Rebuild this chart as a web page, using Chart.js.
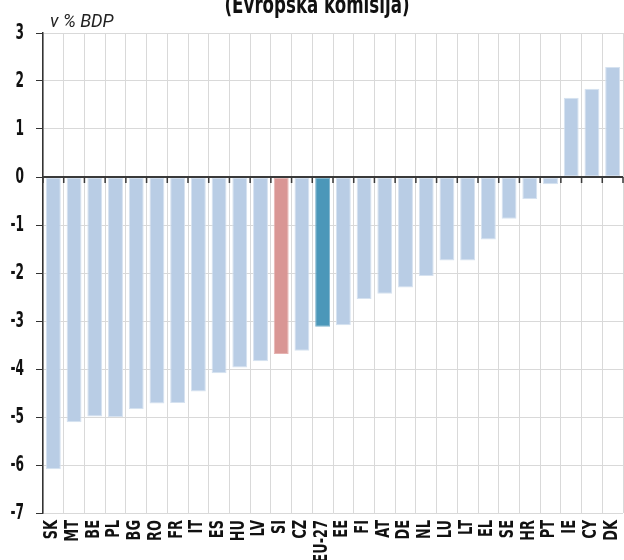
<!DOCTYPE html>
<html>
<head>
<meta charset="utf-8">
<script src="https://cdn.jsdelivr.net/npm/chart.js@4"></script>
<style>
  html, body { margin: 0; padding: 0; background: #ffffff; }
  #wrap { width: 624px; height: 560px; }
</style>
</head>
<body>
<div id="wrap"><canvas id="c" width="624" height="560"></canvas></div>
<script>
// Country codes, left to right
const countries = ['SK','MT','BE','PL','BG','RO','FR','IT','ES','HU','LV','SI','CZ','EU-27','EE','FI','AT','DE','NL','LU','LT','EL','SE','HR','PT','IE','CY','DK'];
// Budget balance, % of GDP
const balance = [-6.09,-5.11,-4.99,-5.0,-4.84,-4.72,-4.71,-4.47,-4.09,-3.97,-3.84,-3.69,-3.62,-3.12,-3.09,-2.54,-2.43,-2.30,-2.06,-1.74,-1.74,-1.30,-0.87,-0.46,-0.15,1.65,1.84,2.29];
// Y axis tick values
const yTicks = [3,2,1,0,-1,-2,-3,-4,-5,-6,-7];
const titleText = '(Evropska komisija)';
const unitText = 'v % BDP';

const highlightSI = 'SI';
const highlightEU = 'EU-27';

const colBase = '#b9cde5', colSI = '#d99694', colEU = '#4b97b9';
const barColors = countries.map(c => c === highlightSI ? colSI : (c === highlightEU ? colEU : colBase));
const edgeColors = countries.map(c => c === highlightSI ? '#e6b3b1' : (c === highlightEU ? '#7fb3cc' : '#d6e2f0'));

const HEAVY = '"DejaVu Sans", sans-serif';
const LIGHT = 'Roboto, "DejaVu Sans", sans-serif';

// Text squeezed along its own direction (narrow typeface look)
function narrowText(ctx, text, x, y, angle, squeeze) {
  ctx.save();
  ctx.translate(x, y);
  ctx.rotate(angle);
  ctx.scale(squeeze, 1);
  ctx.fillText(text, 0, 0);
  ctx.restore();
}

// Zero line with tick marks, narrow axis labels and heading texts
const decorations = {
  id: 'decorations',
  afterDatasetsDraw(chart) {
    const { ctx, chartArea, scales } = chart;
    const x = scales.x, y = scales.y;
    const y0 = y.getPixelForValue(0);
    const step = x.getPixelForValue(1) - x.getPixelForValue(0);
    ctx.save();
    ctx.strokeStyle = '#3a3a3a';
    ctx.lineWidth = 2;
    ctx.beginPath();
    ctx.moveTo(chartArea.left, y0);
    ctx.lineTo(chartArea.right, y0);
    ctx.stroke();
    ctx.lineWidth = 1.5;
    ctx.beginPath();
    for (let i = 0; i <= countries.length; i++) {
      const px = x.getPixelForValue(0) - step / 2 + i * step;
      ctx.moveTo(px, y0);
      ctx.lineTo(px, y0 + 6);
    }
    ctx.stroke();
    ctx.restore();
  },
  afterDraw(chart) {
    const { ctx, chartArea, scales } = chart;
    const x = scales.x, y = scales.y;
    ctx.save();
    ctx.fillStyle = '#111111';

    // y axis labels
    ctx.font = 'bold 21px ' + HEAVY;
    ctx.textAlign = 'right';
    ctx.textBaseline = 'middle';
    y.ticks.forEach((t, i) => {
      narrowText(ctx, String(t.value), chartArea.left - 19, y.getPixelForTick(i) + 1, 0, 0.58);
    });

    // x axis labels, rotated to read upward
    ctx.font = 'bold 19px ' + HEAVY;
    ctx.textAlign = 'right';
    ctx.textBaseline = 'middle';
    countries.forEach((c, i) => {
      narrowText(ctx, c, x.getPixelForValue(i) - 1, chartArea.bottom + 7, -Math.PI / 2, 0.68);
    });

    // heading, fitted to its printed width
    ctx.textAlign = 'center';
    ctx.textBaseline = 'alphabetic';
    ctx.font = 'bold 24px ' + HEAVY;
    const squeezeTitle = 185 / ctx.measureText(titleText).width;
    narrowText(ctx, titleText, 317, 13, 0, squeezeTitle);

    ctx.textAlign = 'left';
    ctx.font = 'italic 19px ' + LIGHT;
    ctx.fillStyle = '#222222';
    narrowText(ctx, unitText, 50, 27, 0, 0.95);
    ctx.restore();
  }
};

new Chart(document.getElementById('c'), {
  type: 'bar',
  data: {
    labels: countries,
    datasets: [{
      data: balance,
      backgroundColor: barColors,
      borderColor: edgeColors,
      borderWidth: 1,
      borderSkipped: false,
      barPercentage: 0.72,
      categoryPercentage: 1.0
    }]
  },
  options: {
    responsive: false,
    animation: false,
    devicePixelRatio: 1,
    layout: { padding: { top: 33, right: 1, left: 0, bottom: 0 } },
    plugins: { legend: { display: false }, tooltip: { enabled: false }, title: { display: false } },
    scales: {
      x: {
        offset: true,
        grid: { offset: true, color: '#d9d9d9', lineWidth: 1, drawTicks: false },
        border: { display: false },
        ticks: { display: false, autoSkip: false },
        afterFit(scale) {
          scale.height = 47;
          scale.paddingLeft = 0;
          scale.paddingRight = 0;
        }
      },
      y: {
        min: -7, max: 3,
        afterBuildTicks(scale) { scale.ticks = yTicks.map(v => ({ value: v })); },
        grid: { color: '#d9d9d9', lineWidth: 1, drawTicks: true, tickLength: 7, tickColor: '#333333' },
        border: { display: true, color: '#333333', width: 1.5 },
        ticks: { display: false },
        afterFit(scale) {
          scale.width = 43;
          scale.paddingTop = 0;
          scale.paddingBottom = 0;
        }
      }
    }
  },
  plugins: [decorations]
});
</script>
</body>
</html>
